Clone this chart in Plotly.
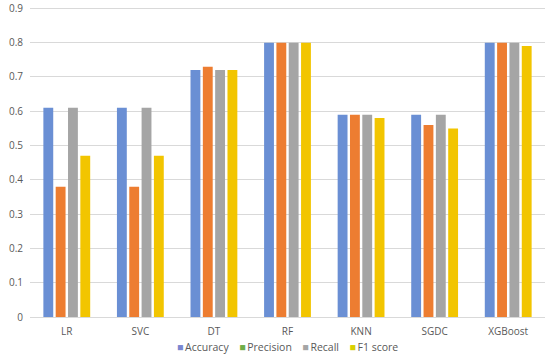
import plotly.graph_objects as go

categories = ["LR", "SVC", "DT", "RF", "KNN", "SGDC", "XGBoost"]
accuracy = [0.61, 0.61, 0.72, 0.80, 0.59, 0.59, 0.80]
precision = [0.38, 0.38, 0.73, 0.80, 0.59, 0.56, 0.80]
recall = [0.61, 0.61, 0.72, 0.80, 0.59, 0.59, 0.80]
f1_score = [0.47, 0.47, 0.72, 0.80, 0.58, 0.55, 0.79]
y_ticks = [0, 0.1, 0.2, 0.3, 0.4, 0.5, 0.6, 0.7, 0.8, 0.9]
y_tick_labels = ["0", "0.1", "0.2", "0.3", "0.4", "0.5", "0.6", "0.7", "0.8", "0.9"]

series = [
    ("Accuracy", accuracy, "#6A8FD4", "#7A86D0"),
    ("Precision", precision, "#ED7D31", "#70AD47"),
    ("Recall", recall, "#A5A5A5", "#A5A5A5"),
    ("F1 score", f1_score, "#F2C500", "#D9D000"),
]

fig = go.Figure()
for name, vals, color, legend_color in series:
    fig.add_trace(go.Bar(x=categories, y=vals, name=name, marker_color=color,
                         marker_line_width=0, showlegend=False))

legend_text = "\u2003".join(
    f"<span style='color:{lc}'>■</span>\u2009{name}" for name, _, _, lc in series
)
fig.add_annotation(x=0.5, y=-0.098, xref="paper", yref="paper", xanchor="center",
                   yanchor="middle", showarrow=False, text=legend_text,
                   font=dict(size=10.5, color="#595959"))

fig.update_layout(
    width=550, height=360,
    margin=dict(l=30, r=5, t=7, b=43),
    paper_bgcolor="white", plot_bgcolor="white",
    barmode="group", bargap=0.33, bargroupgap=0.2,
    font=dict(family="Open Sans, Liberation Sans, sans-serif", size=10, color="#595959"),
    showlegend=False,
    xaxis=dict(showgrid=False, showline=True, linecolor="#D9D9D9", ticks="",
               automargin=False, ticklabelstandoff=5,
               tickfont=dict(size=10, color="#595959")),
    yaxis=dict(range=[0, 0.904], tickvals=y_ticks, ticktext=y_tick_labels,
               showgrid=True, gridcolor="#D9D9D9", zeroline=False, automargin=False,
               ticks="", ticklabelstandoff=6, tickfont=dict(size=10, color="#595959")),
)

fig.write_html("out.html", config={"displayModeBar": False},
               post_script="document.body.style.margin='0';")
